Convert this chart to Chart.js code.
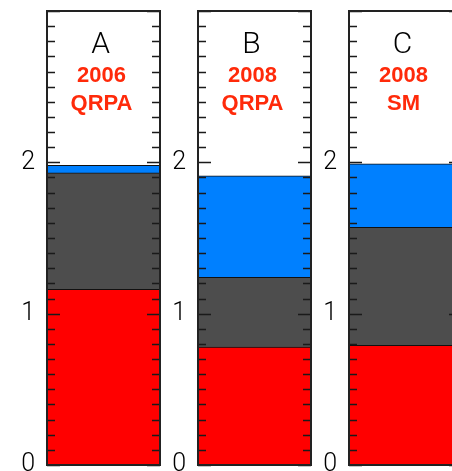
<!DOCTYPE html>
<html>
<head>
<meta charset="utf-8">
<script src="https://cdn.jsdelivr.net/npm/chart.js@4.4.0/dist/chart.umd.min.js"></script>
<style>
  html, body { margin: 0; padding: 0; width: 452px; height: 471px; overflow: hidden; background: #fff; }
  .panel { position: absolute; top: 0; }
</style>
</head>
<body>
<div class="panel" style="left:0px"><canvas id="c0" width="161" height="490"></canvas></div>
<div class="panel" style="left:151px"><canvas id="c1" width="161" height="490"></canvas></div>
<div class="panel" style="left:302px"><canvas id="c2" width="161" height="490"></canvas></div>
<script>
// valeurs
const panels = ["A", "B", "C"];
const years = ["2006", "2008", "2008"];
const methods = ["QRPA", "QRPA", "SM"];
const redVals = [1.16, 0.78, 0.79];
const grayVals = [0.77, 0.46, 0.78];
const blueVals = [0.05, 0.67, 0.42];
const yMin = 0, yMax = 3;
const yLabels = ["0", "1", "2"];

// cadre + petites graduations vers l'intérieur
const framePlugin = {
    id: "frame",
    afterDatasetsDraw(chart) {
        const ctx = chart.ctx;
        const a = chart.chartArea;
        const y = chart.scales.y;
        ctx.save();
        ctx.strokeStyle = "#1a1a1a";
        ctx.lineWidth = 1.5;
        for (let i = 0; i <= 30; i++) {
            const v = i / 10;
            const py = Math.round(y.getPixelForValue(v)) + 0.5;
            const len = (i % 10 === 0) ? 13 : 8;
            ctx.beginPath();
            ctx.moveTo(a.left, py); ctx.lineTo(a.left + len, py);
            ctx.moveTo(a.right, py); ctx.lineTo(a.right - len, py);
            ctx.stroke();
        }
        ctx.lineWidth = 2;
        ctx.strokeStyle = "#222";
        ctx.strokeRect(a.left, a.top, a.right - a.left, a.bottom - a.top);
        ctx.restore();
    }
};

const textPlugin = {
    id: "panelText",
    afterDraw(chart, args, opts) {
        const ctx = chart.ctx;
        const a = chart.chartArea;
        const cx = (a.left + a.right) / 2 - 2;
        ctx.save();
        ctx.textAlign = "center";
        ctx.textBaseline = "middle";
        ctx.fillStyle = "#000";
        ctx.font = "300 30px Roboto, 'Liberation Sans', sans-serif";
        ctx.fillText(opts.letter, cx - 1, 45);
        ctx.fillStyle = "#ff2a0a";
        ctx.font = "bold 22px 'Liberation Sans', Arial, sans-serif";
        ctx.fillText(opts.year, cx, 76);
        ctx.fillText(opts.method, cx, 104);
        ctx.restore();
    }
};

function makePanel(i) {
    const ctx = document.getElementById("c" + i).getContext("2d");
    return new Chart(ctx, {
        type: "bar",
        data: {
            labels: [panels[i]],
            datasets: [
                { data: [redVals[i]], backgroundColor: "#ff0000" },
                { data: [grayVals[i]], backgroundColor: "#4d4d4d" },
                { data: [blueVals[i]], backgroundColor: "#0080ff" }
            ].map(d => Object.assign(d, {
                borderColor: "#111",
                borderWidth: 1,
                barPercentage: 1,
                categoryPercentage: 1
            }))
        },
        options: {
            responsive: false,
            animation: false,
            layout: { padding: { top: 11, bottom: 25, left: 0, right: 1 } },
            plugins: {
                legend: { display: false },
                tooltip: { enabled: false },
                panelText: { letter: panels[i], year: years[i], method: methods[i] }
            },
            scales: {
                x: { stacked: true, display: false },
                y: {
                    stacked: true,
                    min: yMin,
                    max: yMax,
                    grid: { display: false, drawTicks: false },
                    border: { display: false },
                    ticks: {
                        stepSize: 1,
                        padding: 12,
                        color: "#000",
                        font: { family: "Roboto, 'Liberation Sans', sans-serif", size: 25, weight: "300" },
                        callback: v => yLabels[v] !== undefined ? yLabels[v] : ""
                    },
                    afterFit(scale) {
                        scale.width = 47;
                        scale.paddingTop = 0;
                        scale.paddingBottom = 0;
                    }
                }
            }
        },
        plugins: [framePlugin, textPlugin]
    });
}

panels.forEach((p, i) => makePanel(i));
</script>
</body>
</html>
